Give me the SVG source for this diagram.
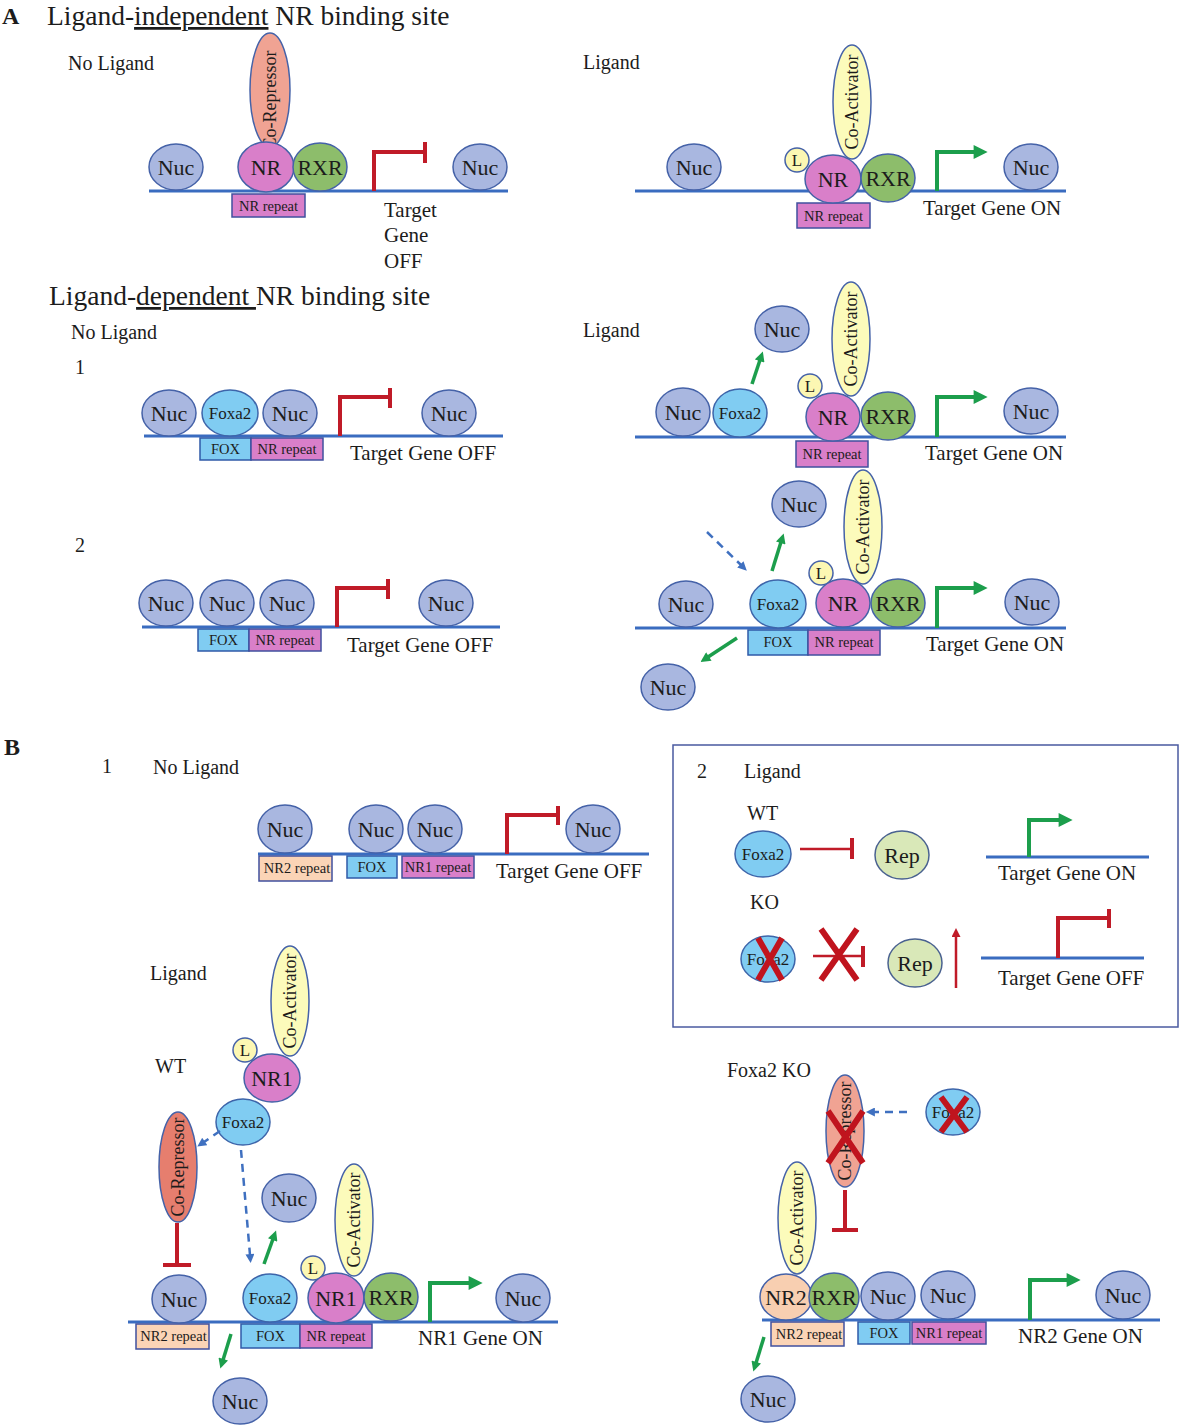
<svg xmlns="http://www.w3.org/2000/svg" width="1180" height="1425" viewBox="0 0 1180 1425">
<defs>
<style>
text{font-family:"Liberation Serif","Times New Roman",serif;fill:#1c1c1c}
.h{font-size:27.5px}
.bold{font-size:24px;font-weight:bold}
.s{font-size:20px}
.lb{font-size:21px}
.n{font-size:22px;text-anchor:middle}
.f{font-size:17px;text-anchor:middle}
.rp{font-size:14.5px;text-anchor:middle}
.vt{font-size:18px;text-anchor:middle}
.nuc{fill:#a9b7e0;stroke:#4562a8;stroke-width:1.5}
.nr{fill:#d97fc9;stroke:#4562a8;stroke-width:1.5}
.rxr{fill:#8dbd6b;stroke:#4562a8;stroke-width:1.5}
.fx{fill:#80ccf2;stroke:#3d65aa;stroke-width:1.5}
.coa{fill:#fcfbbb;stroke:#4562a8;stroke-width:1.5}
.cor{fill:#f0a393;stroke:#4562a8;stroke-width:1.5}
.cor2{fill:#e67e6e;stroke:#4562a8;stroke-width:1.5}
.lg{fill:#fcf7b3;stroke:#4562a8;stroke-width:1.5}
.nr2{fill:#f8cfb1;stroke:#4562a8;stroke-width:1.5}
.rep{fill:#d9e8b8;stroke:#4a6290;stroke-width:1.5}
.bfox{fill:#80ccf2;stroke:#2f5aa8;stroke-width:1.5}
.bnr{fill:#d97fc9;stroke:#40509e;stroke-width:1.5}
.bnr2{fill:#fbd4b6;stroke:#40509e;stroke-width:1.5}
.dna{stroke:#3a6cc0;stroke-width:3;fill:none}
.pr{stroke:#c01b28;stroke-width:4;fill:none}
.pg{stroke:#1c9e4c;stroke-width:4;fill:none}
.mg{stroke:#1c9e4c;stroke-width:3.5;fill:none}
.bd{stroke:#3f70c0;stroke-width:2.5;stroke-dasharray:8 6;fill:none}
.x{stroke:#c0141e;stroke-width:6;fill:none}
.ih{stroke:#c01b28;stroke-width:2.5;fill:none}
</style>
<marker id="ahg" viewBox="0 0 10 10" refX="1" refY="5" markerWidth="16" markerHeight="14" markerUnits="userSpaceOnUse" orient="auto"><path d="M0,0L10,5L0,10z" fill="#1c9e4c"/></marker>
<marker id="ahg2" viewBox="0 0 10 10" refX="1" refY="5" markerWidth="11" markerHeight="10" markerUnits="userSpaceOnUse" orient="auto"><path d="M0,0L10,5L0,10z" fill="#1c9e4c"/></marker>
<marker id="ahb" viewBox="0 0 10 10" refX="1" refY="5" markerWidth="10" markerHeight="9" markerUnits="userSpaceOnUse" orient="auto"><path d="M0,0L10,5L0,10z" fill="#3f70c0"/></marker>
<marker id="ahr" viewBox="0 0 10 10" refX="1" refY="5" markerWidth="10" markerHeight="9" markerUnits="userSpaceOnUse" orient="auto"><path d="M0,0L10,5L0,10z" fill="#c01b28"/></marker>
</defs>
<rect width="1180" height="1425" fill="#ffffff"/>

<!-- labels -->
<g id="labels">
<text class="bold" x="2" y="24">A</text>
<text class="h" x="47" y="25">Ligand-<tspan style="text-decoration:underline">independent</tspan> NR binding site</text>
<text class="s" x="68" y="70">No Ligand</text>
<text class="s" x="583" y="69">Ligand</text>
<text class="lb" x="384" y="217">Target</text>
<text class="lb" x="384" y="242">Gene</text>
<text class="lb" x="384" y="268">OFF</text>
<text class="lb" x="923" y="215">Target Gene ON</text>
<text class="h" x="49" y="305">Ligand-<tspan style="text-decoration:underline">dependent </tspan>NR binding site</text>
<text class="s" x="71" y="339">No Ligand</text>
<text class="s" x="583" y="337">Ligand</text>
<text class="s" x="75" y="374">1</text>
<text class="s" x="75" y="552">2</text>
<text class="lb" x="350" y="460">Target Gene OFF</text>
<text class="lb" x="925" y="460">Target Gene ON</text>
<text class="lb" x="347" y="652">Target Gene OFF</text>
<text class="lb" x="926" y="651">Target Gene ON</text>
<text class="bold" x="4" y="755">B</text>
<text class="s" x="102" y="773">1</text>
<text class="s" x="153" y="774">No Ligand</text>
<text class="lb" x="496" y="878">Target Gene OFF</text>
<text class="s" x="697" y="778">2</text>
<text class="s" x="744" y="778">Ligand</text>
<text class="s" x="747" y="820">WT</text>
<text class="s" x="750" y="909">KO</text>
<text class="lb" x="998" y="880">Target Gene ON</text>
<text class="lb" x="998" y="985">Target Gene OFF</text>
<text class="s" x="150" y="980">Ligand</text>
<text class="s" x="155" y="1073">WT</text>
<text class="lb" x="418" y="1345">NR1 Gene ON</text>
<text class="s" x="727" y="1077">Foxa2 KO</text>
<text class="lb" x="1018" y="1343">NR2 Gene ON</text>
</g>

<!-- DNA strands and frame -->
<g id="dna">
<line class="dna" x1="149" y1="191" x2="508" y2="191"/>
<line class="dna" x1="635" y1="191" x2="1066" y2="191"/>
<line class="dna" x1="144" y1="436" x2="503" y2="436"/>
<line class="dna" x1="635" y1="437" x2="1066" y2="437"/>
<line class="dna" x1="142" y1="627" x2="500" y2="627"/>
<line class="dna" x1="635" y1="628" x2="1066" y2="628"/>
<line class="dna" x1="258" y1="854" x2="649" y2="854"/>
<line class="dna" x1="986" y1="857" x2="1149" y2="857"/>
<line class="dna" x1="981" y1="958" x2="1144" y2="958"/>
<line class="dna" x1="128" y1="1322" x2="558" y2="1322"/>
<line class="dna" x1="762" y1="1320" x2="1160" y2="1320"/>
<rect id="box-b2" x="673" y="745" width="505" height="282" fill="none" stroke="#4a5aa0" stroke-width="1.5"/>
</g>

<!-- binding-site boxes -->
<g id="sites">
<g id="a1-nrrep"><rect class="bnr" x="232" y="194" width="73" height="23"/><text class="rp" x="268.5" y="210.5">NR repeat</text></g>
<g id="a2-nrrep"><rect class="bnr" x="797" y="203" width="73" height="25"/><text class="rp" x="833.5" y="220.5">NR repeat</text></g>
<g id="a3-fox"><rect class="bfox" x="200" y="438" width="51" height="22"/><text class="rp" x="225.5" y="454">FOX</text></g>
<g id="a3-nrrep"><rect class="bnr" x="251" y="438" width="72" height="22"/><text class="rp" x="287" y="454">NR repeat</text></g>
<g id="a4-nrrep"><rect class="bnr" x="796" y="441" width="72" height="26"/><text class="rp" x="832" y="459">NR repeat</text></g>
<g id="a5-fox"><rect class="bfox" x="198" y="629" width="51" height="22"/><text class="rp" x="223.5" y="645">FOX</text></g>
<g id="a5-nrrep"><rect class="bnr" x="249" y="629" width="72" height="22"/><text class="rp" x="285" y="645">NR repeat</text></g>
<g id="a6-fox"><rect class="bfox" x="748" y="630" width="60" height="25"/><text class="rp" x="778" y="647">FOX</text></g>
<g id="a6-nrrep"><rect class="bnr" x="808" y="630" width="72" height="25"/><text class="rp" x="844" y="647">NR repeat</text></g>
<g id="b1-nr2rep"><rect class="bnr2" x="259" y="856" width="73" height="25"/><text class="rp" x="297" y="873">NR2 repeat</text></g>
<g id="b1-fox"><rect class="bfox" x="347" y="856" width="50" height="22"/><text class="rp" x="372" y="872">FOX</text></g>
<g id="b1-nr1rep"><rect class="bnr" x="402" y="856" width="72" height="22"/><text class="rp" x="438" y="872">NR1 repeat</text></g>
<g id="b3-nr2rep"><rect class="bnr2" x="136" y="1324" width="73" height="25"/><text class="rp" x="173.5" y="1341">NR2 repeat</text></g>
<g id="b3-fox"><rect class="bfox" x="241" y="1324" width="59" height="24"/><text class="rp" x="270.5" y="1341">FOX</text></g>
<g id="b3-nrrep"><rect class="bnr" x="300" y="1324" width="72" height="24"/><text class="rp" x="336" y="1341">NR repeat</text></g>
<g id="b4-nr2rep"><rect class="bnr2" x="771" y="1322" width="73" height="24"/><text class="rp" x="809" y="1339">NR2 repeat</text></g>
<g id="b4-fox"><rect class="bfox" x="858" y="1322" width="52" height="22"/><text class="rp" x="884" y="1338">FOX</text></g>
<g id="b4-nr1rep"><rect class="bnr" x="912" y="1322" width="74" height="22"/><text class="rp" x="949" y="1338">NR1 repeat</text></g>
</g>

<!-- Panel A1 no ligand -->
<g id="a1-nuc1"><ellipse class="nuc" cx="176" cy="167" rx="27" ry="23"/><text class="n" x="176" y="174.5">Nuc</text></g>
<g id="a1-corep"><ellipse class="cor" cx="270" cy="90" rx="20" ry="57"/><text class="vt" transform="translate(276,100) rotate(-90)">Co-Repressor</text></g>
<g id="a1-nr"><ellipse class="nr" cx="266" cy="167" rx="28" ry="25"/><text class="n" x="266" y="174.5">NR</text></g>
<g id="a1-rxr"><ellipse class="rxr" cx="320" cy="167" rx="27" ry="24"/><text class="n" x="320" y="174.5">RXR</text></g>
<g id="a1-nuc2"><ellipse class="nuc" cx="480" cy="167" rx="27" ry="23"/><text class="n" x="480" y="174.5">Nuc</text></g>

<!-- Panel A2 ligand -->
<g id="a2-nuc1"><ellipse class="nuc" cx="694" cy="167" rx="27" ry="23"/><text class="n" x="694" y="174.5">Nuc</text></g>
<g id="a2-coact"><ellipse class="coa" cx="852" cy="102" rx="19" ry="57"/><text class="vt" transform="translate(858,102) rotate(-90)">Co-Activator</text></g>
<g id="a2-l"><circle class="lg" cx="797" cy="160" r="12"/><text class="f" x="797" y="166">L</text></g>
<g id="a2-nr"><ellipse class="nr" cx="833" cy="179" rx="28" ry="24"/><text class="n" x="833" y="186.5">NR</text></g>
<g id="a2-rxr"><ellipse class="rxr" cx="888" cy="178" rx="27" ry="24"/><text class="n" x="888" y="185.5">RXR</text></g>
<g id="a2-nuc2"><ellipse class="nuc" cx="1031" cy="167" rx="27" ry="23"/><text class="n" x="1031" y="174.5">Nuc</text></g>

<!-- Panel A3 -->
<g id="a3-nuc1"><ellipse class="nuc" cx="169" cy="413" rx="27" ry="23"/><text class="n" x="169" y="420.5">Nuc</text></g>
<g id="a3-foxa2"><ellipse class="fx" cx="230" cy="413" rx="28" ry="23"/><text class="f" x="230" y="419">Foxa2</text></g>
<g id="a3-nuc2"><ellipse class="nuc" cx="290" cy="413" rx="27" ry="23"/><text class="n" x="290" y="420.5">Nuc</text></g>
<g id="a3-nuc3"><ellipse class="nuc" cx="449" cy="413" rx="27" ry="23"/><text class="n" x="449" y="420.5">Nuc</text></g>

<!-- Panel A4 -->
<g id="a4-nuc1"><ellipse class="nuc" cx="683" cy="412" rx="27" ry="24"/><text class="n" x="683" y="419.5">Nuc</text></g>
<g id="a4-foxa2"><ellipse class="fx" cx="740" cy="413" rx="27" ry="24"/><text class="f" x="740" y="419">Foxa2</text></g>
<g id="a4-nucup"><ellipse class="nuc" cx="782" cy="329" rx="27" ry="23"/><text class="n" x="782" y="336.5">Nuc</text></g>
<g id="a4-coact"><ellipse class="coa" cx="851" cy="339" rx="19" ry="57"/><text class="vt" transform="translate(857,339) rotate(-90)">Co-Activator</text></g>
<g id="a4-l"><circle class="lg" cx="810" cy="386" r="12"/><text class="f" x="810" y="392">L</text></g>
<g id="a4-nr"><ellipse class="nr" cx="833" cy="417" rx="27" ry="24"/><text class="n" x="833" y="424.5">NR</text></g>
<g id="a4-rxr"><ellipse class="rxr" cx="888" cy="416" rx="27" ry="24"/><text class="n" x="888" y="423.5">RXR</text></g>
<g id="a4-nuc2"><ellipse class="nuc" cx="1031" cy="411" rx="27" ry="23"/><text class="n" x="1031" y="418.5">Nuc</text></g>

<!-- Panel A5 -->
<g id="a5-nuc1"><ellipse class="nuc" cx="166" cy="603" rx="27" ry="23"/><text class="n" x="166" y="610.5">Nuc</text></g>
<g id="a5-nuc2"><ellipse class="nuc" cx="227" cy="603" rx="27" ry="23"/><text class="n" x="227" y="610.5">Nuc</text></g>
<g id="a5-nuc3"><ellipse class="nuc" cx="287" cy="603" rx="27" ry="23"/><text class="n" x="287" y="610.5">Nuc</text></g>
<g id="a5-nuc4"><ellipse class="nuc" cx="446" cy="603" rx="27" ry="23"/><text class="n" x="446" y="610.5">Nuc</text></g>

<!-- Panel A6 -->
<g id="a6-nuc1"><ellipse class="nuc" cx="686" cy="604" rx="27" ry="23"/><text class="n" x="686" y="611.5">Nuc</text></g>
<g id="a6-nucup"><ellipse class="nuc" cx="799" cy="504" rx="27" ry="23"/><text class="n" x="799" y="511.5">Nuc</text></g>
<g id="a6-coact"><ellipse class="coa" cx="863" cy="527" rx="19" ry="57"/><text class="vt" transform="translate(869,527) rotate(-90)">Co-Activator</text></g>
<g id="a6-l"><circle class="lg" cx="821" cy="573" r="12"/><text class="f" x="821" y="579">L</text></g>
<g id="a6-foxa2"><ellipse class="fx" cx="778" cy="604" rx="28" ry="24"/><text class="f" x="778" y="610">Foxa2</text></g>
<g id="a6-nr"><ellipse class="nr" cx="843" cy="603" rx="27" ry="24"/><text class="n" x="843" y="610.5">NR</text></g>
<g id="a6-rxr"><ellipse class="rxr" cx="898" cy="603" rx="27" ry="24"/><text class="n" x="898" y="610.5">RXR</text></g>
<g id="a6-nuc2"><ellipse class="nuc" cx="1032" cy="602" rx="27" ry="23"/><text class="n" x="1032" y="609.5">Nuc</text></g>
<g id="a6-nucdown"><ellipse class="nuc" cx="668" cy="687" rx="27" ry="23"/><text class="n" x="668" y="694.5">Nuc</text></g>

<!-- Panel B1 -->
<g id="b1-nuc1"><ellipse class="nuc" cx="285" cy="829" rx="27" ry="24"/><text class="n" x="285" y="836.5">Nuc</text></g>
<g id="b1-nuc2"><ellipse class="nuc" cx="376" cy="829" rx="27" ry="24"/><text class="n" x="376" y="836.5">Nuc</text></g>
<g id="b1-nuc3"><ellipse class="nuc" cx="435" cy="829" rx="27" ry="24"/><text class="n" x="435" y="836.5">Nuc</text></g>
<g id="b1-nuc4"><ellipse class="nuc" cx="593" cy="829" rx="27" ry="24"/><text class="n" x="593" y="836.5">Nuc</text></g>

<!-- Panel B2 box -->
<g id="b2-foxa2-wt"><ellipse class="fx" cx="763" cy="854" rx="28" ry="23"/><text class="f" x="763" y="860">Foxa2</text></g>
<g id="b2-rep-wt"><ellipse class="rep" cx="902" cy="855" rx="27" ry="24"/><text class="n" x="902" y="862.5">Rep</text></g>
<g id="b2-foxa2-ko"><ellipse class="fx" cx="768" cy="959" rx="27" ry="23"/><text class="f" x="768" y="965">Foxa2</text></g>
<g id="b2-rep-ko"><ellipse class="rep" cx="915" cy="963" rx="27" ry="24"/><text class="n" x="915" y="970.5">Rep</text></g>

<!-- Panel B3 WT -->
<g id="b3-coact-top"><ellipse class="coa" cx="290" cy="1001" rx="19" ry="55"/><text class="vt" transform="translate(296,1001) rotate(-90)">Co-Activator</text></g>
<g id="b3-l-top"><circle class="lg" cx="245" cy="1050" r="12"/><text class="f" x="245" y="1056">L</text></g>
<g id="b3-nr1-top"><ellipse class="nr" cx="272" cy="1078" rx="28" ry="24"/><text class="n" x="272" y="1085.5">NR1</text></g>
<g id="b3-foxa2-top"><ellipse class="fx" cx="243" cy="1122" rx="27" ry="23"/><text class="f" x="243" y="1128">Foxa2</text></g>
<g id="b3-corep"><ellipse class="cor2" cx="178" cy="1167" rx="19" ry="55"/><text class="vt" transform="translate(184,1167) rotate(-90)">Co-Repressor</text></g>
<g id="b3-nucup"><ellipse class="nuc" cx="289" cy="1198" rx="27" ry="24"/><text class="n" x="289" y="1205.5">Nuc</text></g>
<g id="b3-nuc1"><ellipse class="nuc" cx="179" cy="1299" rx="27" ry="24"/><text class="n" x="179" y="1306.5">Nuc</text></g>
<g id="b3-coact"><ellipse class="coa" cx="354" cy="1220" rx="19" ry="56"/><text class="vt" transform="translate(360,1220) rotate(-90)">Co-Activator</text></g>
<g id="b3-l"><circle class="lg" cx="313" cy="1268" r="12"/><text class="f" x="313" y="1274">L</text></g>
<g id="b3-foxa2"><ellipse class="fx" cx="270" cy="1298" rx="27" ry="24"/><text class="f" x="270" y="1304">Foxa2</text></g>
<g id="b3-nr1"><ellipse class="nr" cx="336" cy="1298" rx="28" ry="25"/><text class="n" x="336" y="1305.5">NR1</text></g>
<g id="b3-rxr"><ellipse class="rxr" cx="391" cy="1297" rx="27" ry="24"/><text class="n" x="391" y="1304.5">RXR</text></g>
<g id="b3-nuc2"><ellipse class="nuc" cx="523" cy="1298" rx="27" ry="24"/><text class="n" x="523" y="1305.5">Nuc</text></g>
<g id="b3-nucdown"><ellipse class="nuc" cx="240" cy="1401" rx="27" ry="23"/><text class="n" x="240" y="1408.5">Nuc</text></g>

<!-- Panel B4 Foxa2 KO -->
<g id="b4-corep"><ellipse class="cor" cx="845" cy="1131" rx="19" ry="56"/><text class="vt" transform="translate(851,1131) rotate(-90)">Co-Repressor</text></g>
<g id="b4-foxa2"><ellipse class="fx" cx="953" cy="1112" rx="27" ry="23"/><text class="f" x="953" y="1118">Foxa2</text></g>
<g id="b4-coact"><ellipse class="coa" cx="797" cy="1218" rx="19" ry="56"/><text class="vt" transform="translate(803,1218) rotate(-90)">Co-Activator</text></g>
<g id="b4-nr2"><ellipse class="nr2" cx="786" cy="1297" rx="26" ry="23"/><text class="n" x="786" y="1304.5">NR2</text></g>
<g id="b4-rxr"><ellipse class="rxr" cx="834" cy="1297" rx="25" ry="24"/><text class="n" x="834" y="1304.5">RXR</text></g>
<g id="b4-nuc1"><ellipse class="nuc" cx="888" cy="1296" rx="27" ry="24"/><text class="n" x="888" y="1303.5">Nuc</text></g>
<g id="b4-nuc2"><ellipse class="nuc" cx="948" cy="1295" rx="27" ry="24"/><text class="n" x="948" y="1302.5">Nuc</text></g>
<g id="b4-nuc3"><ellipse class="nuc" cx="1123" cy="1295" rx="27" ry="24"/><text class="n" x="1123" y="1302.5">Nuc</text></g>
<g id="b4-nucdown"><ellipse class="nuc" cx="768" cy="1399" rx="27" ry="23"/><text class="n" x="768" y="1406.5">Nuc</text></g>

<!-- connectors: promoters, arrows, inhibitions -->
<g id="connectors">
<path class="pr" d="M374,191V152H424"/><line class="pr" x1="425" y1="142" x2="425" y2="163"/>
<path class="pg" d="M937,191V152H975" marker-end="url(#ahg)"/>
<path class="pr" d="M340,436V397H389"/><line class="pr" x1="390" y1="388" x2="390" y2="408"/>
<path class="mg" d="M752,384L760,360" marker-end="url(#ahg2)"/>
<path class="pg" d="M937,437V397H975" marker-end="url(#ahg)"/>
<path class="pr" d="M337,627V588H387"/><line class="pr" x1="388" y1="579" x2="388" y2="599"/>
<path class="bd" d="M707,532L741,565" marker-end="url(#ahb)"/>
<path class="mg" d="M772,571L781,542" marker-end="url(#ahg2)"/>
<path class="mg" d="M737,638L708,657" marker-end="url(#ahg2)"/>
<path class="pg" d="M937,628V588H975" marker-end="url(#ahg)"/>
<path class="pr" d="M507,854V815H557"/><line class="pr" x1="558" y1="806" x2="558" y2="825"/>
<line class="ih" x1="800" y1="849" x2="851" y2="849"/><line class="pr" x1="852" y1="838" x2="852" y2="859"/>
<path class="pg" d="M1029,857V820H1060" marker-end="url(#ahg)"/>
<line class="ih" x1="813" y1="956" x2="862" y2="956"/><line class="pr" x1="863" y1="946" x2="863" y2="967"/>
<path class="ih" d="M956,988V936" marker-end="url(#ahr)"/>
<path class="pr" d="M1058,958V918H1108"/><line class="pr" x1="1109" y1="909" x2="1109" y2="928"/>
<path class="bd" d="M220,1131L204,1142" marker-end="url(#ahb)"/>
<path class="bd" d="M241,1150L250,1255" marker-end="url(#ahb)"/>
<path class="pr" d="M177,1223V1265"/><line class="pr" x1="163" y1="1265" x2="191" y2="1265"/>
<path class="mg" d="M264,1264L273,1239" marker-end="url(#ahg2)"/>
<path class="mg" d="M231,1334L223,1360" marker-end="url(#ahg2)"/>
<path class="pg" d="M430,1322V1283H470" marker-end="url(#ahg)"/>
<path class="bd" d="M907,1112L874,1112" marker-end="url(#ahb)"/>
<path class="pr" d="M845,1190V1230"/><line class="pr" x1="832" y1="1230" x2="858" y2="1230"/>
<path class="mg" d="M764,1337L756,1363" marker-end="url(#ahg2)"/>
<path class="pg" d="M1030,1320V1280H1068" marker-end="url(#ahg)"/>
</g>

<!-- knockout crosses -->
<g id="crosses">
<path class="x" d="M758,938L782,980M782,938L758,980"/>
<path class="x" d="M821,929L857,980M857,929L821,980"/>
<path class="x" d="M828,1111L863,1163M863,1111L828,1163"/>
<path class="x" d="M941,1097L967,1132M967,1097L941,1132"/>
</g>
</svg>
